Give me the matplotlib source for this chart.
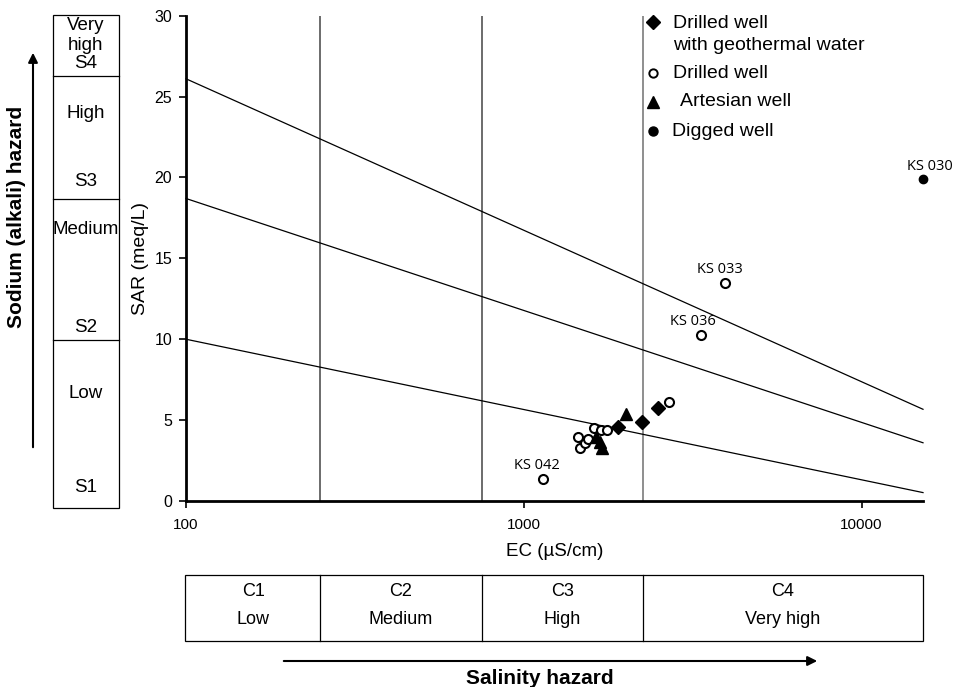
import matplotlib
matplotlib.use("Agg")
import numpy as np
import matplotlib.pyplot as plt
from matplotlib.patches import Rectangle, FancyArrowPatch
from matplotlib.lines import Line2D

# ---------------- data ----------------
geo_ec = [1906, 2236, 2504]
geo_sar = [4.55, 4.86, 5.73]

drilled_ec = [1143, 1468, 1519, 1554, 1451, 1619, 1694, 1762, 2700, 3343, 3945]
drilled_sar = [1.36, 3.29, 3.57, 3.81, 3.97, 4.49, 4.39, 4.39, 6.10, 10.26, 13.5]

artesian_ec = [1640, 1680, 1700, 2005]
artesian_sar = [3.97, 3.67, 3.26, 5.40]

digged_ec = [15200]
digged_sar = [19.9]

labels_txt = ["KS 042", "KS 036", "KS 033", "KS 030"]
labels_ec = [1143, 3343, 3945, 15200]
labels_sar = [1.36, 10.26, 13.5, 19.9]

ec_bounds = [250, 750, 2250]
line_ec = [100, 15200]
line_sar_left = [10.0, 18.7, 26.1]
line_sar_right = [0.52, 3.6, 5.67]

x_ticks = [100, 1000, 10000]
y_ticks = [0, 5, 10, 15, 20, 25, 30]

c_classes = [("C1", "Low"), ("C2", "Medium"), ("C3", "High"), ("C4", "Very high")]

# ---------------- figure ----------------
W, H = 954, 687
fig = plt.figure(figsize=(W / 100, H / 100), dpi=100)
FONT = ["Liberation Sans", "DejaVu Sans"]
plt.rcParams["font.family"] = FONT


def fx(px):
    return px / W


def fy(py):
    return 1 - py / H


ax_l, ax_r, ax_t, ax_b = 186, 923, 15.7, 501
XMIN, XMAX = 100, 15200
ax = fig.add_axes([fx(ax_l), fy(ax_b), (ax_r - ax_l) / W, (ax_b - ax_t) / H])
ax.set_xscale("log")
ax.set_xlim(XMIN, XMAX)
ax.set_ylim(0, 30)
ax.spines["top"].set_visible(False)
ax.spines["right"].set_visible(False)
ax.spines["left"].set_linewidth(2)
ax.spines["bottom"].set_linewidth(2)
ax.set_xticks(x_ticks)
ax.set_xticklabels([str(v) for v in x_ticks], fontsize=11)
ax.xaxis.set_minor_locator(matplotlib.ticker.NullLocator())
ax.set_yticks(y_ticks)
ax.set_yticklabels([str(v) for v in y_ticks], fontsize=11.5)
ax.tick_params(axis="both", direction="out", length=5, width=1.2, pad=5)
ax.tick_params(axis="x", pad=7)

for b, c in zip(ec_bounds, ["#444444", "#444444", "#707070"]):
    ax.axvline(b, color=c, lw=1.1, zorder=1)
for l, r in zip(line_sar_left, line_sar_right):
    ax.plot(line_ec, [l, r], color="black", lw=0.9, zorder=1, clip_on=False)

ax.plot(drilled_ec, drilled_sar, "o", ms=6.5, mfc="white", mec="black", mew=1.5, ls="none", zorder=3)
ax.plot(artesian_ec, artesian_sar, "^", ms=9, color="black", ls="none", zorder=4)
ax.plot(geo_ec, geo_sar, "D", ms=7, color="black", ls="none", zorder=4)
ax.plot(digged_ec, digged_sar, "o", ms=6, color="black", ls="none", zorder=4, clip_on=False)

label_dx = [-5, -6, -4, 5]  # horizontal nudges in points
for t, x, y, dx in zip(labels_txt, labels_ec, labels_sar, label_dx):
    ax.annotate(t, (x, y), xytext=(dx, 4), textcoords="offset points", ha="center",
                va="bottom", fontsize=10.5, fontfamily=["Open Sans", "DejaVu Sans"],
                annotation_clip=False)

ax.set_ylabel("SAR (meq/L)", fontsize=14, labelpad=4)
ax.set_xlabel("EC (µS/cm)", fontsize=13.5, labelpad=8)

# legend (custom)
leg_markers = [("D", 7, 22, False), ("o", 6, 73, True), ("^", 9, 102, False), ("o", 6.5, 131, False)]
for m, ms, py, hollow in leg_markers:
    if hollow:
        fig.add_artist(Line2D([fx(653)], [fy(py)], marker=m, ms=ms, mfc="white",
                              mec="black", mew=1.4, ls="none"))
    else:
        fig.add_artist(Line2D([fx(653)], [fy(py)], marker=m, ms=ms, color="black", ls="none"))
leg_texts = [("Drilled well", 673, 24), ("with geothermal water", 673, 45),
             ("Drilled well", 673, 74), ("Artesian well", 680, 102), ("Digged well", 672, 132)]
for txt, tx, ty in leg_texts:
    fig.text(fx(tx), fy(ty), txt, fontsize=14, va="center", ha="left")

# ---------------- left box ----------------
bx_l, bx_r, bx_t, bx_b = 53, 119, 14.5, 508
divs = [76, 199.3, 340]
fig.add_artist(Rectangle((fx(bx_l), fy(bx_b)), (bx_r - bx_l) / W, (bx_b - bx_t) / H,
                         fill=False, lw=0.9, ec="black"))
for d in divs:
    fig.add_artist(Line2D([fx(bx_l), fx(bx_r)], [fy(d), fy(d)], lw=0.9, color="black"))
cx = fx(86)
for txt, py in [("Very", 25), ("high", 45), ("S4", 64), ("High", 113), ("S3", 181),
                ("Medium", 230), ("S2", 327), ("Low", 393), ("S1", 488)]:
    fig.text(cx, fy(py), txt, ha="center", va="center", fontsize=13.5)

fig.add_artist(FancyArrowPatch((fx(33), fy(450)), (fx(33), fy(50)), arrowstyle="-|>",
                               mutation_scale=14, lw=1.5, color="black"))
fig.text(fx(17), fy(217), "Sodium (alkali) hazard", rotation=90, ha="center", va="center",
         fontsize=15, fontweight="bold")

# ---------------- bottom box ----------------
bb_l, bb_r, bb_t, bb_b = 185, 923, 575, 641
fig.add_artist(Rectangle((fx(bb_l), fy(bb_b)), (bb_r - bb_l) / W, (bb_b - bb_t) / H,
                         fill=False, lw=0.9, ec="black"))
xb_edges = [XMIN] + ec_bounds + [XMAX]
lo, hi = np.log10(XMIN), np.log10(XMAX)
edges_px = [ax_l + (ax_r - ax_l) * (np.log10(v) - lo) / (hi - lo) for v in xb_edges]
for e in edges_px[1:-1]:
    fig.add_artist(Line2D([fx(e), fx(e)], [fy(bb_t), fy(bb_b)], lw=0.9, color="black"))
for (c1, c2), a, b in zip(c_classes, edges_px[:-1], edges_px[1:]):
    m = (a + b) / 2
    fig.text(fx(m), fy(591), c1, ha="center", va="center", fontsize=13)
    fig.text(fx(m), fy(620), c2, ha="center", va="center", fontsize=13)

fig.add_artist(FancyArrowPatch((fx(281), fy(661)), (fx(820), fy(661)), arrowstyle="-|>",
                               mutation_scale=14, lw=1.5, color="black"))
fig.text(fx(540), fy(678), "Salinity hazard", ha="center", va="center", fontsize=15,
         fontweight="bold")

fig.savefig("out.png", dpi=100)
